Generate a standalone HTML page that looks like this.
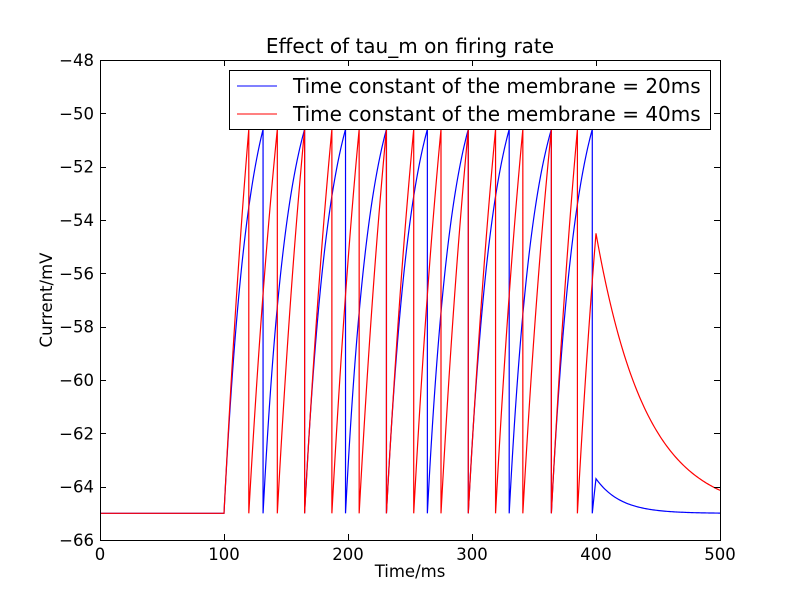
<!DOCTYPE html>
<html><head><meta charset="utf-8"><style>
body{margin:0;background:#fff;}
svg text{font-family:"DejaVu Sans","Liberation Sans",sans-serif;}
</style></head><body>
<svg id="chart" width="800" height="600" xmlns="http://www.w3.org/2000/svg">
<rect width="800" height="600" fill="#fff"/>
<text x="410" y="53" font-size="20" text-anchor="middle">Effect of tau_m on firing rate</text>
<g id="plot"></g>
<g id="axes"></g>
<text x="410" y="577" font-size="16.5" text-anchor="middle">Time/ms</text>
<text x="52" y="300" font-size="16.5" text-anchor="middle" transform="rotate(-90 52 300)">Current/mV</text>
<g>
<rect x="229.5" y="70.5" width="481" height="59" fill="#fff" stroke="#000"/>
<line x1="237" y1="86" x2="277" y2="86" stroke="#00f"/>
<text x="293" y="93" font-size="20">Time constant of the membrane = 20ms</text>
<line x1="237" y1="114" x2="277" y2="114" stroke="#f00"/>
<text x="293" y="121" font-size="20">Time constant of the membrane = 40ms</text>
</g>
</svg>
<script>
const xTicks=[0,100,200,300,400,500];
const yTicks=[-48,-50,-52,-54,-56,-58,-60,-62,-64,-66];
const blueSpikes=[131.5,165,198,231,264,297,330,364,397];
const redSpikes=[120,143,165,187,209,231,253,275,297,319,341,364,385];
const blueAfter=[-63.7];
const redAfter=[-54.5];
const tauBlue=[20];
const tauRed=[40];
const vRest=-65, vThr=-50.6, tOn=100, tOff=400, tEnd=500;
const X0=100,X1=720,Y0=540,Y1=60;
const sx=t=>X0+(t-0)/(500-0)*(X1-X0);
const sy=v=>Y0+(v-(-66))/((-48)-(-66))*(Y1-Y0);
const NS='http://www.w3.org/2000/svg';
const plot=document.getElementById('plot'), axes=document.getElementById('axes');
function buildPath(spikes,tau,after){
  let d=`M${sx(0)},${sy(vRest)} L${sx(tOn)},${sy(vRest)}`;
  let t0=tOn, A=null;
  for(const ts of spikes){
    A=(vThr-vRest)/(1-Math.exp(-(ts-t0)/tau));
    for(let t=t0;t<=ts;t+=0.5){d+=` L${sx(t)},${sy(vRest+A*(1-Math.exp(-(t-t0)/tau)))}`;}
    d+=` L${sx(ts)},${sy(vThr)} L${sx(ts)},${sy(vRest)}`;
    t0=ts;
  }
  const v0=after[0];
  A=(v0-vRest)/(1-Math.exp(-(tOff-t0)/tau));
  for(let t=t0;t<=tOff;t+=0.25){d+=` L${sx(t)},${sy(vRest+A*(1-Math.exp(-(t-t0)/tau)))}`;}
  for(let t=tOff;t<=tEnd;t+=1){d+=` L${sx(t)},${sy(vRest+(v0-vRest)*Math.exp(-(t-tOff)/tau))}`;}
  return d;
}
const pb=document.createElementNS(NS,'path');
pb.setAttribute('d',buildPath(blueSpikes,tauBlue[0],blueAfter));
pb.setAttribute('fill','none');pb.setAttribute('stroke','#00f');pb.setAttribute('stroke-width','1.2');


plot.appendChild(pb);
const pr=document.createElementNS(NS,'path');
pr.setAttribute('d',buildPath(redSpikes,tauRed[0],redAfter));
pr.setAttribute('fill','none');pr.setAttribute('stroke','#f00');pr.setAttribute('stroke-width','1.2');


plot.appendChild(pr);
const frame=document.createElementNS(NS,'rect');
frame.setAttribute('x',X0+0.5);frame.setAttribute('y',Y1+0.5);frame.setAttribute('width',X1-X0);frame.setAttribute('height',Y0-Y1);
frame.setAttribute('fill','none');frame.setAttribute('stroke','#000');


axes.appendChild(frame);
for(const t of xTicks){
  const x=Math.round(sx(t))+0.5;
  const l=document.createElementNS(NS,'path');
  l.setAttribute('d',`M${x},${Y0} v-6 M${x},${Y1} v6`);l.setAttribute('stroke','#000');
  
  
  axes.appendChild(l);
  const tx=document.createElementNS(NS,'text');
  tx.setAttribute('x',sx(t));tx.setAttribute('y',Y0+20);tx.setAttribute('font-size','16.5');tx.setAttribute('text-anchor','middle');
  tx.textContent=t;
  
  
  axes.appendChild(tx);
}
for(const v of yTicks){
  const y=Math.round(sy(v))+0.5;
  const l=document.createElementNS(NS,'path');
  l.setAttribute('d',`M${X0},${y} h6 M${X1},${y} h-6`);l.setAttribute('stroke','#000');
  
  
  axes.appendChild(l);
  const tx=document.createElementNS(NS,'text');
  tx.setAttribute('x',X0-6);tx.setAttribute('y',sy(v)+6);tx.setAttribute('font-size','16.5');tx.setAttribute('text-anchor','end');
  tx.textContent='\u2212'+Math.abs(v);
  
  
  axes.appendChild(tx);
}
</script>
</body></html>
